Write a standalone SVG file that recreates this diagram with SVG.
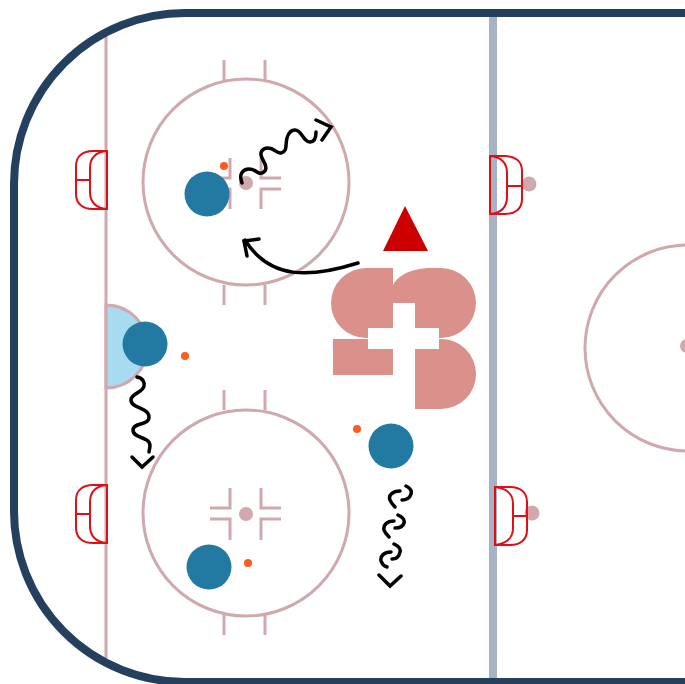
<svg xmlns="http://www.w3.org/2000/svg" width="685" height="684" viewBox="0 0 685 684">
<style>
.m{fill:none;stroke:#CFA9AE;stroke-width:3}
.dot{fill:#CFA9AE}
.g{fill:none;stroke:#E00F16;stroke-width:2}
.p{fill:#2279A2}
.k{fill:#FF5A1F}
.l{fill:#DB918B}
.a{fill:none;stroke:#000;stroke-width:3.500;stroke-linecap:round;stroke-linejoin:miter}
</style>
<rect width="685" height="684" fill="#fff"/>
<g id="rink">
<path class="m" d="M106,33V661"/>
<path d="M493,13V682" fill="none" stroke="#A5B3C4" stroke-width="8"/>
<circle class="m" cx="246" cy="182" r="103"/>
<circle class="m" cx="246" cy="513" r="103"/>
<circle class="m" cx="688" cy="348" r="103"/>
<circle class="dot" cx="687" cy="346" r="7"/>
<path class="m" d="M224,60V80M265,60V80M224,285V305M265,285V305M224,390V410M265,390V410M224,615V635M265,615V635"/>
<path class="m" d="M230,158V178H210M261,158V178H281M230,209V189H210M261,209V189H281"/>
<path class="m" d="M230,488V508H210M261,488V508H281M230,540V519H210M261,540V519H281"/>
<circle class="dot" cx="246" cy="183" r="7"/>
<circle class="dot" cx="246" cy="514" r="7"/>
<path d="M106,305A41.500,41.500 0 0 1 106,388Z" fill="#A7DBF0" stroke="#CFA9AE" stroke-width="3"/>
<path d="M685,13H185A171,171 0 0 0 14,184V510A171,171 0 0 0 185,682H685" fill="none" stroke="#25405E" stroke-width="8"/>
</g>
<g id="goal-left-top"><path class="g" d="M107,151H93C83,151 76,156 76,166V194C76,204 83,209 93,209H107ZM107,151C97,152 90,157 90,168V192C90,203 97,208 107,209M76,180H90"/></g>
<g id="goal-left-bottom"><path class="g" d="M107,485H93C83,485 76,490 76,500V528C76,538 83,543 93,543H107ZM107,485C97,486 90,491 90,502V526C90,537 97,542 107,543M76,514H90"/></g>
<g id="goal-right-top"><circle class="dot" cx="529" cy="184" r="7.500"/><path class="g" d="M490,156H505C515,156 522,161 522,171V199C522,209 515,214 505,214H490ZM490,156C500,157 507,162 507,173V197C507,208 500,213 490,214M507,186H522"/></g>
<g id="goal-right-bottom"><circle class="dot" cx="532" cy="513" r="7.500"/><path class="g" d="M495,487H510C520,487 527,492 527,502V530C527,540 520,545 510,545H495ZM495,487C505,488 513,493 513,504V528C513,539 505,544 495,545M513,516H527"/></g>
<g id="logo">
<path class="l" d="M393,268H366A35,35 0 0 0 366,338H368V328H393Z"/>
<path class="l" d="M393,285C398,275 412,268 432,268H441A35,35 0 0 1 441,338H439V328H415V303H393Z"/>
<path class="l" d="M333,339H368V349H393V375H333Z"/>
<path class="l" d="M415,349H439V339A35,35 0 0 1 476,374A35,35 0 0 1 441,409H415Z"/>
</g>
<g id="coach"><path d="M405,206L428,251H383Z" fill="#CC0000"/></g>
<g id="connectors">
<path class="a" d="M358,263C310,278 270,280 245,240M259,239L244,241L247,256"/>
<path class="a" d="M242,183C238,173 244,169 249,169C256,169 258,175 262,173C268,171 266,165 263,160C258,152 263,148 268,148C275,148 276,154 281,153C288,151 285,145 287,138C289,131 292,130 295,130C302,130 303,142 310,142C314,142 316,138 316,132M316,120L331,127L322,140"/>
<path class="a" d="M137,377C143,378 145,383 144,386C143,393 131,393 131,400C131,409 149,407 149,417C149,426 133,422 133,430C133,439 150,436 150,446L149,452M132,457L142,467L153,457"/>
<path class="a" d="M400,491C393,491 388,495 390,500C391,503 393,505 395,507M406,486C410,488 412,491 411,494C410,498 406,500 402,500M394,521C387,521 383,525 384,530C385,533 387,535 389,537M398,515C402,517 405,520 404,523C403,527 399,528 395,528M391,552C384,552 380,556 381,561C382,564 384,566 387,567M394,544C398,546 401,549 400,552C399,557 396,559 392,559M379,575L390,586L401,576"/>
</g>
<g id="player-1"><circle class="p" cx="207" cy="194" r="22.500"/><circle class="k" cx="224" cy="166" r="4"/></g>
<g id="player-2"><circle class="p" cx="145" cy="344" r="22.500"/><circle class="k" cx="185" cy="356" r="4"/></g>
<g id="player-3"><circle class="p" cx="391" cy="446" r="22.500"/><circle class="k" cx="357" cy="429" r="4"/></g>
<g id="player-4"><circle class="p" cx="209" cy="567" r="22.500"/><circle class="k" cx="248" cy="563" r="4"/></g>
</svg>
